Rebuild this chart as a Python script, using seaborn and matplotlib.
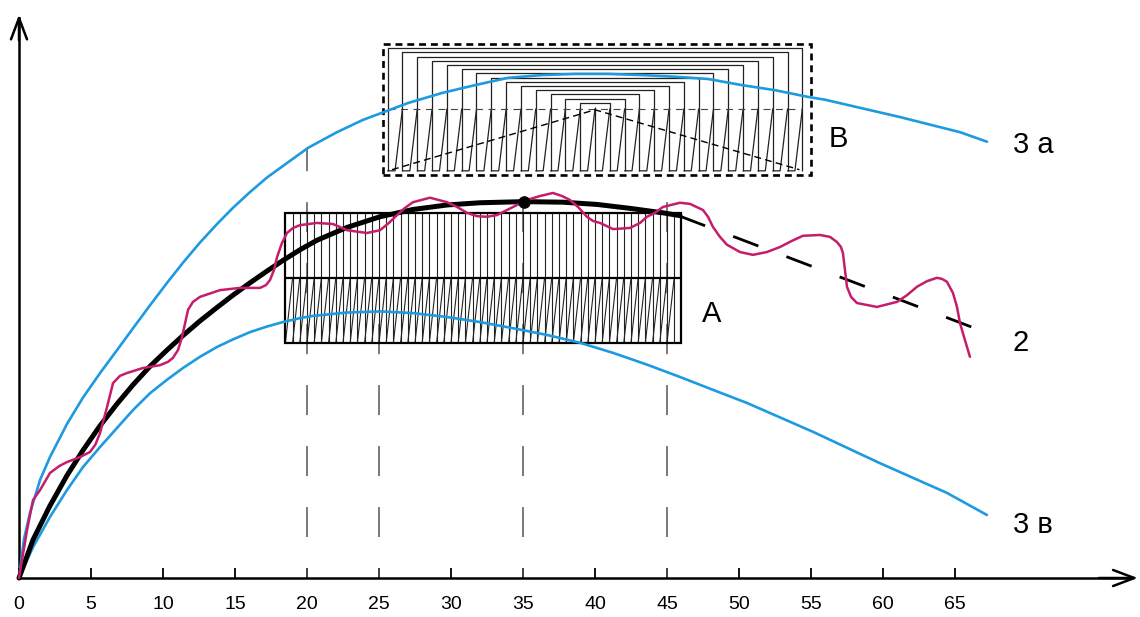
import numpy as np
import matplotlib
matplotlib.use("Agg")
import matplotlib.pyplot as plt
import seaborn as sns
from matplotlib.patches import Rectangle

# ---------------- data ----------------
x_ticks = [0, 5, 10, 15, 20, 25, 30, 35, 40, 45, 50, 55, 60, 65]

curve_3a_x = [0, 0.35, 0.76, 1.46, 2.15, 3.33, 4.44, 5.63, 6.81, 7.92, 9.1, 10.28, 11.39,
              12.57, 13.75, 14.86, 16.04, 17.22, 20.07, 22.08, 23.89, 27.01, 29.38, 31.67,
              33.96, 36.32, 38.61, 40.9, 43.26, 45.56, 47.85, 50.21, 52.5, 54.79, 55.97,
              61.18, 65.35, 67.22]
curve_3a_y = [0, 7.0, 11.6, 17.5, 21.6, 27.5, 32.2, 36.6, 40.7, 44.6, 48.7, 52.7, 56.3,
              59.9, 63.2, 66.1, 68.9, 71.5, 76.8, 79.6, 81.8, 84.8, 86.6, 88.0,
              89.3, 89.8, 90.0, 90.0, 89.8, 89.5, 89.1, 88.0, 87.1, 85.9, 85.4,
              82.3, 79.6, 77.9]

curve_3b_x = [0, 0.97, 2.15, 3.33, 4.44, 5.63, 6.81, 7.92, 9.1, 10.28, 11.39, 12.57, 13.75,
              14.86, 16.04, 17.22, 18.33, 19.51, 20.42, 22.78, 25.07, 27.36, 29.72, 32.01,
              34.31, 36.67, 38.96, 41.25, 43.61, 45.9, 48.19, 50.56, 55.14, 59.79, 64.44,
              67.22]
curve_3b_y = [0, 5.5, 10.9, 15.7, 19.8, 23.4, 26.8, 30.0, 33.0, 35.4, 37.5, 39.5, 41.25,
              42.6, 43.9, 44.9, 45.7, 46.4, 46.8, 47.4, 47.6, 47.3, 46.6, 45.7,
              44.6, 43.4, 42.0, 40.2, 38.1, 35.9, 33.6, 31.25, 26.1, 20.5, 15.2,
              11.25]

mean_x = [0, 0.97, 2.15, 3.33, 4.44, 5.63, 6.81, 7.92, 9.1, 10.28, 11.39, 12.57, 13.75,
          14.86, 16.04, 17.22, 18.33, 19.51, 20.69, 22.78, 25.07, 27.36, 29.72, 32.01,
          35.07, 37.78, 40.14, 42.43, 44.72, 45.9]
mean_y = [0, 6.8, 12.9, 18.3, 22.8, 27.2, 31.1, 34.5, 37.8, 40.7, 43.3, 45.9, 48.3,
          50.5, 52.7, 54.8, 56.7, 58.6, 60.3, 62.6, 64.5, 65.8, 66.6, 67.0,
          67.2, 67.1, 66.7, 66.0, 65.2, 64.7]

trend_x = [45.9, 67.4]
trend_y = [64.6, 43.6]

peak_x = [35.07]
peak_y = [67.1]

wave_x = [0, 0.56, 0.97, 1.46, 2.15, 2.8, 3.33, 4.24, 4.93, 5.3, 5.63, 6.11, 6.53, 7.01,
          7.5, 8.61, 9.79, 10.35, 10.69, 11.04, 11.32, 11.74, 12.08, 12.57, 13.96, 15.35,
          16.74, 17.15, 17.43, 17.71, 17.92, 18.26, 18.61, 19.03, 19.51, 20.69, 21.81,
          22.78, 24.17, 25.07, 25.69, 26.25, 26.81, 27.36, 28.54, 29.72, 30.42, 31.11,
          31.81, 32.5, 33.19, 33.89, 34.58, 35.28, 36.18, 37.08, 37.71, 38.26, 38.82,
          39.44, 39.86, 40.35, 41.25, 42.43, 43.13, 43.61, 44.17, 44.72, 45.9, 46.6,
          47.5, 47.85, 48.19, 48.68, 49.17, 50.07, 50.97, 51.94, 52.85, 53.68, 54.44,
          55.63, 56.32, 56.8, 57.08, 57.22, 57.36, 57.5, 57.78, 58.19, 59.58, 60.97,
          61.67, 62.36, 63.06, 63.75, 64.1, 64.44, 64.86, 65.14, 65.35, 65.69, 66.04]
wave_y = [0, 8.6, 13.9, 15.7, 18.75, 20.0, 20.7, 21.6, 22.5, 23.8, 25.9, 30.5, 34.8, 36.1,
          36.6, 37.5, 38.0, 38.6, 39.3, 40.7, 43.0, 47.9, 49.3, 50.2, 51.4, 51.8,
          51.8, 52.3, 53.2, 55.0, 57.3, 59.8, 61.6, 62.5, 63.0, 63.4, 63.2,
          62.1, 61.6, 62.1, 63.4, 64.8, 66.1, 67.1, 67.9, 67.1, 66.25, 65.2,
          64.6, 64.5, 64.8, 65.7, 66.6, 67.5, 68.2, 68.75, 68.2, 67.5, 66.25,
          64.5, 63.75, 63.4, 62.3, 62.5, 63.4, 64.5, 65.2, 66.25, 67.0, 66.8,
          65.7, 64.5, 62.7, 60.9, 59.5, 58.2, 57.7, 58.2, 59.1, 60.2, 61.1,
          61.25, 60.9, 60.0, 59.1, 58.0, 55.0, 52.0, 50.2, 49.1, 48.4, 49.3,
          50.5, 52.0, 53.0, 53.6, 53.4, 52.9, 50.9, 48.4, 45.5, 42.5, 39.5]

guide_x = [20, 25, 35, 45]
guide_top = [76.8, 47.5, 72.0, 72.0]

box_a_x = [18.5, 46.0]
box_a_y = [42.0, 53.6, 65.2]          # bottom, divider, top

box_b_x = [25.3, 55.0]
box_b_y = [72.0, 95.4]
box_b_inner_x = [25.6, 40.0, 54.4]    # left, centre, right
box_b_inner_y = [72.7, 83.75, 84.1, 94.6]  # bottom, middle, centre top, edge top
box_b_vee_x = [25.9, 40.0, 54.2]
box_b_vee_y = [72.9, 83.6, 72.9]

labels = ["3 а", "2", "3 в", "A", "B"]
label_x = [69.0, 69.0, 69.0, 47.4, 56.2]
label_y = [77.3, 42.0, 9.5, 47.1, 78.4]

# ---------------- style ----------------
sns.set_theme(style="white")
plt.rcParams["font.family"] = ["Liberation Sans", "DejaVu Sans"]
plt.rcParams["lines.scale_dashes"] = False

BLUE = "#1E9AE0"
MAGENTA = "#C51C6C"
GRAY = "#555555"

fig = plt.figure(figsize=(11.4, 6.17), dpi=100)
fig.patch.set_facecolor("white")
ax = fig.add_axes([0, 0, 1, 1])
ax.set_facecolor("white")
ax.set_xlim(-1.32, 77.85)
ax.set_ylim(-6.96, 103.2)

# axes as arrows
for s in ["top", "right"]:
    ax.spines[s].set_visible(False)
ax.spines["bottom"].set_position(("data", 0))
ax.spines["left"].set_position(("data", 0))
ax.spines["bottom"].set_bounds(0, 77.0)
ax.spines["left"].set_bounds(0, 100.0)
for s in ["bottom", "left"]:
    ax.spines[s].set_color("black")
    ax.spines[s].set_linewidth(1.8)
arrow_style = "->,head_length=0.45,head_width=0.17"
ax.annotate("", xy=(77.7, 0), xytext=(75.0, 0),
            arrowprops=dict(arrowstyle=arrow_style, lw=1.8, color="black",
                            mutation_scale=34, shrinkA=0, shrinkB=0))
ax.annotate("", xy=(0, 100.6), xytext=(0, 96.0),
            arrowprops=dict(arrowstyle=arrow_style, lw=1.8, color="black",
                            mutation_scale=34, shrinkA=0, shrinkB=0))

ax.set_xticks(x_ticks)
ax.set_xticklabels([str(t) for t in x_ticks])
ax.set_yticks([])
ax.tick_params(axis="x", direction="in", length=7.5, width=1.3, colors="black",
               labelsize=14, pad=13, bottom=True)
for lab in ax.get_xticklabels():
    lab.set_fontfamily(["Liberation Sans Narrow", "Liberation Sans", "DejaVu Sans"])
ax.grid(False)

# dashed vertical guides
ax.vlines(guide_x, 0, guide_top, colors=GRAY, lw=1.1,
          linestyles=[(14.4, (21.6, 22.3))], zorder=1.5)

# ---------------- box A ----------------
ax0, ax1 = box_a_x
ab, am, at = box_a_y
ax.add_patch(Rectangle((ax0, ab), ax1 - ax0, at - ab, fill=False, ec="black",
                       lw=1.6, zorder=2.5))
ax.hlines(am, ax0, ax1, colors="black", lw=1.6, zorder=2.5)
xs_a = np.arange(ax0 + 0.5, ax1, 0.5)
ax.vlines(xs_a, am, at, colors="#222222", lw=0.8, zorder=2)
ax.vlines(xs_a, ab, am, colors="#222222", lw=0.8, zorder=2)
saw_x, saw_y = [], []
edges_a = np.concatenate([[ax0], xs_a])
for k in range(len(edges_a) - 1):
    saw_x += [edges_a[k], edges_a[k + 1], np.nan]
    saw_y += [ab, am, np.nan]
ax.plot(saw_x, saw_y, color="#222222", lw=0.8, zorder=2)

# ---------------- box B ----------------
bx0, bx1 = box_b_x
by0, by1 = box_b_y
ax.add_patch(Rectangle((bx0, by0), bx1 - bx0, by1 - by0, fill=False, ec="black",
                       lw=1.9, ls=(0, (5.0, 3.5)), zorder=2.5))
il, ic, ir = box_b_inner_x
ib, imid, ictop, iedge = box_b_inner_y
xs_b = np.linspace(il, ir, 29)
half = ir - ic
tops = ictop + (iedge - ictop) * np.abs(xs_b - ic) / half
ax.vlines(xs_b, ib, tops, colors="#222222", lw=0.9, zorder=2)
# nested brackets of the upper part
for k in range(len(xs_b) // 2):
    j = len(xs_b) - 1 - k
    ax.plot([xs_b[k], xs_b[j]], [tops[k], tops[j]], color="#222222", lw=0.9, zorder=2)
# lower saw teeth
bs_x, bs_y = [], []
step = xs_b[1] - xs_b[0]
for k in range(len(xs_b) - 1):
    bs_x += [xs_b[k], xs_b[k] + step / 2, xs_b[k + 1], np.nan]
    bs_y += [ib, ib, imid, np.nan]
ax.plot(bs_x, bs_y, color="#222222", lw=0.9, zorder=2)
ax.hlines(imid, il, ir, colors="#444444", lw=0.8, linestyles=[(0, (5, 4))], zorder=2)
ax.plot(box_b_vee_x, box_b_vee_y, color="black", lw=1.0, ls=(0, (5, 3)), zorder=2.2)

# ---------------- curves ----------------
sns.lineplot(x=curve_3a_x, y=curve_3a_y, sort=False, estimator=None, color=BLUE,
             lw=1.9, ax=ax, zorder=3)
sns.lineplot(x=curve_3b_x, y=curve_3b_y, sort=False, estimator=None, color=BLUE,
             lw=1.9, ax=ax, zorder=3)
sns.lineplot(x=mean_x, y=mean_y, sort=False, estimator=None, color="black",
             lw=3.6, ax=ax, zorder=4)
sns.lineplot(x=trend_x, y=trend_y, sort=False, estimator=None, color="black",
             lw=2.0, ls=(0, (19.4, 21.6)), ax=ax, zorder=4)
sns.lineplot(x=wave_x, y=wave_y, sort=False, estimator=None, color=MAGENTA,
             lw=1.8, ax=ax, zorder=5)
sns.scatterplot(x=peak_x, y=peak_y, color="black", s=70, edgecolor="black",
                ax=ax, zorder=6)

for t, xx, yy in zip(labels, label_x, label_y):
    ax.text(xx, yy, t, fontsize=21, color="black", ha="left", va="center", zorder=7)

ax.set_xlabel("")
ax.set_ylabel("")
fig.savefig("out.png", dpi=100, facecolor="white")
